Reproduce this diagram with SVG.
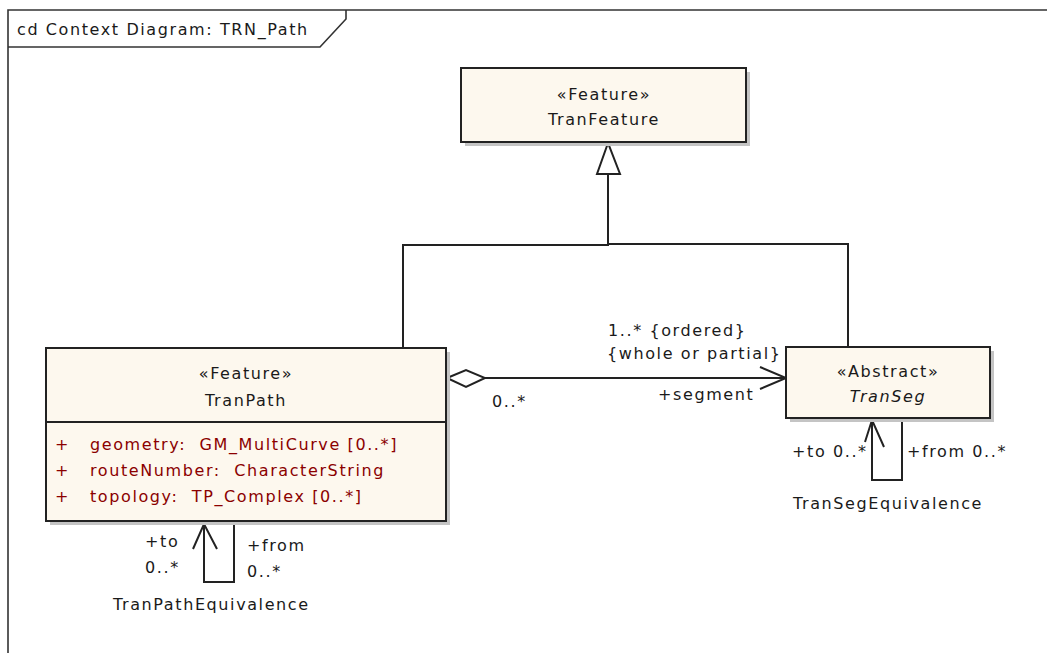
<svg xmlns="http://www.w3.org/2000/svg" width="1047" height="653" viewBox="0 0 1047 653">
<style>
text{font-family:"DejaVu Sans","Liberation Sans",sans-serif;font-size:16px;letter-spacing:1.6px;fill:#1a1a1a}
.c{text-anchor:middle}
.attr{fill:#8b0000}
.box{fill:#fdf8ee;stroke:#222;stroke-width:2}
.sh{fill:#c4c4c4}
.ln{fill:none;stroke:#222;stroke-width:2}
.frame{fill:none;stroke:#333;stroke-width:1.6}
</style>
<rect width="1047" height="653" fill="#fff"/>
<g id="frame">
<path class="frame" d="M8,653 V10 H1047"/>
<path class="frame" d="M8,47 H320 L346,19 V10"/>
<text x="17" y="35">cd Context Diagram: TRN_Path</text>
</g>
<g id="connectors">
<path class="ln" d="M403,348 V245 H608 V174 M608,244 H848 V347"/>
<polygon points="608,143 597,174 620,174" fill="#fff" stroke="#222" stroke-width="2"/>
<path class="ln" d="M485,378 H786"/>
<polygon points="447,378 466,370 485,378 466,387" fill="#fff" stroke="#222" stroke-width="2"/>
<path class="ln" stroke-width="1.6" d="M760,367 L786,378 L760,389"/>
<text x="608" y="336">1..* {ordered}</text>
<text x="607" y="359">{whole or partial}</text>
<text x="658" y="400">+segment</text>
<text x="492" y="407">0..*</text>
<path class="ln" d="M872,418 V480 H902 V418"/>
<path class="ln" stroke-width="1.6" d="M865,442 L872,420 L884,447"/>
<text x="792" y="457" letter-spacing="1">+to 0..*</text>
<text x="907" y="457">+from 0..*</text>
<text class="c" x="888" y="509">TranSegEquivalence</text>
<path class="ln" d="M204,521 V582 H234 V521"/>
<path class="ln" stroke-width="1.6" d="M193,549 L204,524 L217,549"/>
<text x="145" y="547">+to</text>
<text x="145" y="573">0..*</text>
<text x="247" y="551">+from</text>
<text x="247" y="577">0..*</text>
<text x="113" y="610">TranPathEquivalence</text>
</g>
<g id="TranFeature">
<rect class="sh" x="465" y="72" width="285" height="74"/>
<rect class="box" x="461" y="68" width="285" height="74"/>
<text class="c" x="604" y="100">«Feature»</text>
<text class="c" x="604" y="125">TranFeature</text>
</g>
<g id="TranPath">
<rect class="sh" x="50" y="352" width="400" height="173"/>
<rect class="box" x="46" y="348" width="400" height="173"/>
<line x1="46" y1="422" x2="446" y2="422" stroke="#222" stroke-width="2"/>
<text class="c" x="246" y="379">«Feature»</text>
<text class="c" x="246" y="406">TranPath</text>
<text class="attr" x="55" y="450">+</text>
<text class="attr" x="90" y="450" xml:space="preserve" letter-spacing="1.5">geometry:  GM_MultiCurve [0..*]</text>
<text class="attr" x="55" y="476">+</text>
<text class="attr" x="90" y="476" xml:space="preserve" letter-spacing="1.5">routeNumber:  CharacterString</text>
<text class="attr" x="55" y="502">+</text>
<text class="attr" x="90" y="502" xml:space="preserve" letter-spacing="1.5">topology:  TP_Complex [0..*]</text>
</g>
<g id="TranSeg">
<rect class="sh" x="790" y="351" width="204" height="71"/>
<rect class="box" x="786" y="347" width="204" height="71"/>
<text class="c" x="888" y="377">«Abstract»</text>
<text class="c" x="888" y="402" font-style="italic">TranSeg</text>
</g>
</svg>
